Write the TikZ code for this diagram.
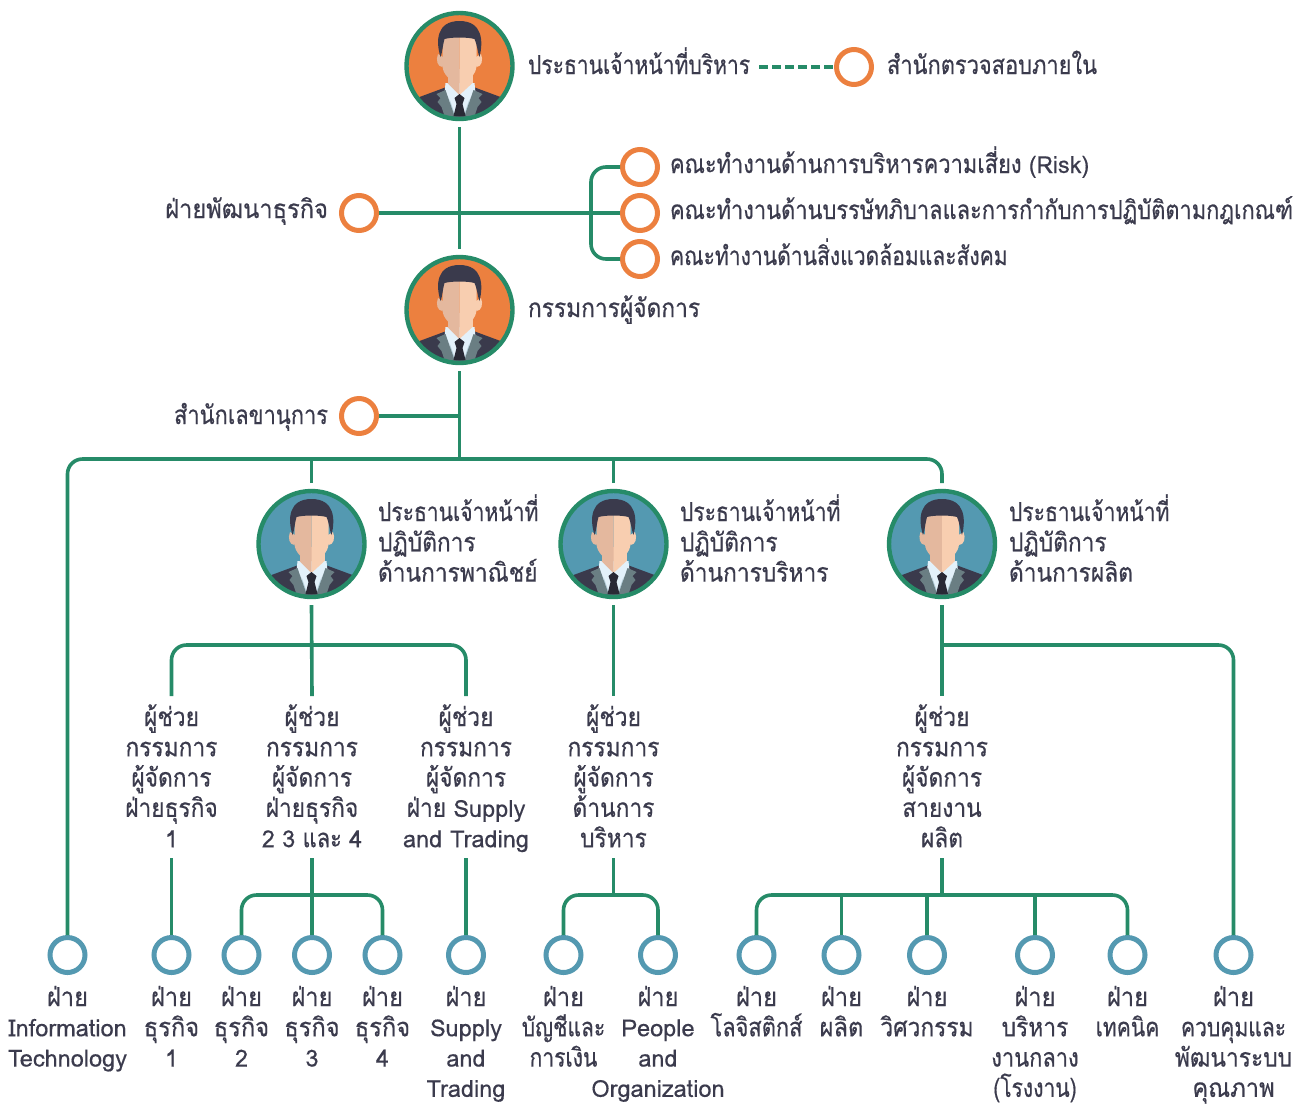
\documentclass[tikz,border=0pt]{standalone}
\usepackage{fontspec}
\setmainfont[Script=Thai,FakeStretch=0.84,FakeBold=0.5]{Loma}
\newfontfamily\fna[Script=Thai,FakeStretch=0.81,FakeBold=0.5]{Loma}
\newfontfamily\fwa[Script=Thai,FakeStretch=0.875,FakeBold=0.5]{Loma}
\newfontfamily\fxa[Script=Thai,FakeStretch=0.91,FakeBold=0.5]{Loma}
\newfontfamily\lafont[FakeBold=0.4]{Loma}
\newcommand\la[1]{{\fontsize{23.5pt}{30.3pt}\selectfont\lafont #1}}
\newcommand\na[1]{{\fna #1}}
\newcommand\wa[1]{{\fwa #1}}
\newcommand\xa[1]{{\fxa #1}}
\newcommand\tl[1]{\rule{0pt}{30pt}#1\rule[-11pt]{0pt}{11pt}}
\newcommand\bt[1]{\rule{0pt}{30pt}#1}
\definecolor{ink}{HTML}{3B3B4D}
\definecolor{tgreen}{HTML}{268B68}
\definecolor{torange}{HTML}{EC803F}
\definecolor{tblue}{HTML}{5499B1}
\definecolor{hairc}{HTML}{3A3A4C}
\definecolor{skinl}{HTML}{E4B89E}
\definecolor{skinr}{HTML}{F8CEB0}
\definecolor{shirtc}{HTML}{E3F1FA}
\definecolor{shirtd}{HTML}{B5CFDB}
\definecolor{lapel}{HTML}{6A7E83}
\tikzset{
  x=1pt,y=-1pt,
  lnk/.style={draw=tgreen,line width=3.6pt},
  head/.style={circle,minimum size=106pt,inner sep=0pt,outer sep=0pt},
  oring/.style={circle,draw=torange,line width=5pt,fill=white,minimum size=35pt,inner sep=0pt,outer sep=2.5pt},
  bring/.style={circle,draw=tblue,line width=5pt,fill=white,minimum size=35pt,inner sep=0pt,outer sep=2.5pt},
  lbl/.style={inner sep=0pt,outer sep=0pt,text=ink,align=center,anchor=north,
    font=\fontsize{26pt}{30.3pt}\selectfont,
    execute at begin node={\lineskiplimit=-1000pt}},
  lbll/.style={lbl,align=left,anchor=north west},
  lblr/.style={lbl,align=right,anchor=north east},
  pics/person/.style={code={
    \begin{scope}
      \clip (0,0) circle (52);
      \fill[#1] (-55,-55) rectangle (55,55);
      \fill[hairc] (-40,31) -- (-13,21) -- (14,21) -- (41,31) -- (52,55) -- (-52,55) -- cycle;
      \fill[shirtc] (-14,17) -- (15,17) -- (16,27) -- (8,50) -- (-8,50) -- (-15,27) -- cycle;
      \fill[shirtd] (-10,33) -- (-4,50) -- (-8,50) -- cycle (10,33) -- (4,50) -- (8,50) -- cycle;
      \fill[skinl] (-12,3) rectangle (0,17);
      \fill[skinl] (-12,17) -- (0,29) -- (0,17) -- cycle;
      \fill[skinr] (0,3) rectangle (13,17);
      \fill[skinr] (13,17) -- (0,29) -- (0,17) -- cycle;
      \fill[lapel] (-23,28) -- (-14,24) -- (-5,50) -- (-15,50) -- (-18,41) -- (-22,36) -- (-19,32) -- cycle;
      \fill[lapel] (23,28) -- (14,24) -- (5,50) -- (15,50) -- (18,41) -- (22,36) -- (19,32) -- cycle;
      \fill[hairc!70!black] (0,28) -- (5,32) -- (3,38) -- (6,50) -- (-6,50) -- (-3,38) -- (-5,32) -- cycle;
      \fill[skinl] (-21.5,-12) .. controls (-24,-6) and (-22,1) .. (-17,1) -- (-15,-8) -- cycle;
      \fill[skinr] (21.5,-12) .. controls (24,-6) and (22,1) .. (17,1) -- (15,-8) -- cycle;
      \fill[skinl] (0,-30) -- (-17,-30) -- (-17,0) .. controls (-17,8) and (-8,17) .. (0,17) -- cycle;
      \fill[skinr] (0,-30) -- (17,-30) -- (17,0) .. controls (17,8) and (8,17) .. (0,17) -- cycle;
      \fill[hairc] (-19,-9) .. controls (-24,-25) and (-23,-45) .. (0,-45)
        .. controls (23,-45) and (24,-25) .. (20,-9)
        .. controls (18,-14) and (18,-20) .. (15,-27)
        .. controls (8,-29) and (-8,-29) .. (-15,-27)
        .. controls (-17,-20) and (-17,-14) .. (-19,-9) -- cycle;
    \end{scope}
    \draw[tgreen,line width=4.4pt] (0,0) circle (53);
  }}
}
\begin{document}
\begin{tikzpicture}
\useasboundingbox (0,0) rectangle (1306,1104);
% heads
\node[head] (ceo) at (459.5,66) {};
\node[head] (md) at (459.5,310) {};
\node[head] (coo) at (311.5,544) {};
\node[head] (cao) at (613.5,544) {};
\node[head] (cpo) at (942,544) {};
\pic at (ceo) {person=torange};
\pic at (md) {person=torange};
\pic at (coo) {person=tblue};
\pic at (cao) {person=tblue};
\pic at (cpo) {person=tblue};
% rings
\node[oring] (audit) at (854,67) {};
\node[oring] (risk) at (640,167) {};
\node[oring] (gov) at (640,213) {};
\node[oring] (env) at (640,259) {};
\node[oring] (bizdev) at (359,213) {};
\node[oring] (sec) at (359,416) {};
\node[bring] (it) at (67.5,955) {};
\node[bring] (b1) at (171.5,955) {};
\node[bring] (b2) at (241.5,955) {};
\node[bring] (b3) at (312,955) {};
\node[bring] (b4) at (382.5,955) {};
\node[bring] (sup) at (466,955) {};
\node[bring] (acc) at (563.5,955) {};
\node[bring] (ppl) at (658,955) {};
\node[bring] (log) at (756.5,955) {};
\node[bring] (prod) at (841.5,955) {};
\node[bring] (eng) at (927,955) {};
\node[bring] (adm) at (1035,955) {};
\node[bring] (tech) at (1127.5,955) {};
\node[bring] (qa) at (1233.5,955) {};
% labels
\node[lbll] (tceo) at (528,44) {\tl{\na{ประธานเจ้าหน้าที่บริหาร}}};
\node[lbll] (taudit) at (887,44) {\tl{สำนักตรวจสอบภายใน}};
\node[lbll] (trisk) at (670,143) {\tl{คณะทำงานด้านการบริหารความเสี่ยง \la{(Risk)}}};
\node[lbll] (tgov) at (670,189) {\tl{คณะทำงานด้านบรรษัทภิบาลและการกำกับการปฏิบัติตามกฎเกณฑ์}};
\node[lbll] (tenv) at (670,235) {\tl{\na{คณะทำงานด้านสิ่งแวดล้อมและสังคม}}};
\node[lblr] (tbiz) at (328,188) {\tl{\xa{ฝ่ายพัฒนาธุรกิจ}}};
\node[lbll] (tmd) at (528,287) {\tl{\wa{กรรมการผู้จัดการ}}};
\node[lblr] (tsec) at (328,394) {\tl{สำนักเลขานุการ}};
\node[lbll] (tcoo) at (378,491) {\tl{\na{ประธานเจ้าหน้าที่}\\\wa{ปฏิบัติการ}\\\wa{ด้านการพาณิชย์}}};
\node[lbll] (tcao) at (680,491) {\tl{\na{ประธานเจ้าหน้าที่}\\\wa{ปฏิบัติการ}\\\wa{ด้านการบริหาร}}};
\node[lbll] (tcpo) at (1009,491) {\tl{\na{ประธานเจ้าหน้าที่}\\\wa{ปฏิบัติการ}\\\wa{ด้านการผลิต}}};
\node[lbl] (a1) at (171.5,696) {\tl{\wa{ผู้ช่วย}\\\wa{กรรมการ}\\\wa{ผู้จัดการ}\\\wa{ฝ่ายธุรกิจ}\\\la{1}}};
\node[lbl] (a2) at (312,696) {\tl{\wa{ผู้ช่วย}\\\wa{กรรมการ}\\\wa{ผู้จัดการ}\\\wa{ฝ่ายธุรกิจ}\\\la{2} \la{3} และ \la{4}}};
\node[lbl] (a3) at (466,696) {\tl{\wa{ผู้ช่วย}\\\wa{กรรมการ}\\\wa{ผู้จัดการ}\\\wa{ฝ่าย} \la{Supply}\\\la{and Trading}}};
\node[lbl] (a4) at (613.5,696) {\tl{\wa{ผู้ช่วย}\\\wa{กรรมการ}\\\wa{ผู้จัดการ}\\\wa{ด้านการ}\\\wa{บริหาร}}};
\node[lbl] (a5) at (942,696) {\tl{\wa{ผู้ช่วย}\\\wa{กรรมการ}\\\wa{ผู้จัดการ}\\\wa{สายงาน}\\\wa{ผลิต}}};
\node[lbl] at (67.5,976) (tit) {\bt{\xa{ฝ่าย}\\\la{Information}\\\la{Technology}}};
\node[lbl] at (171.5,976) (tb1) {\bt{\xa{ฝ่าย}\\\xa{ธุรกิจ}\\\la{1}}};
\node[lbl] at (241.5,976) (tb2) {\bt{\xa{ฝ่าย}\\\xa{ธุรกิจ}\\\la{2}}};
\node[lbl] at (312,976) (tb3) {\bt{\xa{ฝ่าย}\\\xa{ธุรกิจ}\\\la{3}}};
\node[lbl] at (382.5,976) (tb4) {\bt{\xa{ฝ่าย}\\\xa{ธุรกิจ}\\\la{4}}};
\node[lbl] at (466,976) (tsup) {\bt{\xa{ฝ่าย}\\\la{Supply}\\\la{and}\\\la{Trading}}};
\node[lbl] at (563.5,976) (tacc) {\bt{\xa{ฝ่าย}\\\na{บัญชีและ}\\\na{การเงิน}}};
\node[lbl] at (658,976) (tppl) {\bt{\xa{ฝ่าย}\\\la{People}\\\la{and}\\\la{Organization}}};
\node[lbl] at (756.5,976) (tlog) {\bt{\xa{ฝ่าย}\\โลจิสติกส์}};
\node[lbl] at (841.5,976) (tprod) {\bt{\xa{ฝ่าย}\\\xa{ผลิต}}};
\node[lbl] at (927,976) (teng) {\bt{\xa{ฝ่าย}\\\wa{วิศวกรรม}}};
\node[lbl] at (1035,976) (tadm) {\bt{\xa{ฝ่าย}\\\wa{บริหาร}\\งานกลาง\\\na{(โรงงาน)}}};
\node[lbl] at (1127.5,976) (ttech) {\bt{\xa{ฝ่าย}\\\na{เทคนิค}}};
\node[lbl] at (1233.5,976) (tqa) {\bt{\xa{ฝ่าย}\\\na{ควบคุมและ}\\\wa{พัฒนาระบบ}\\\xa{คุณภาพ}}};
% junction coordinates
\coordinate (ceoOut) at (459.5,127);
\coordinate (mdIn) at (459.5,249);
\coordinate (mdOut) at (459.5,371);
\coordinate (busY) at (459.5,459);
\coordinate (cooIn) at (311.5,483);
\coordinate (caoIn) at (613.5,483);
\coordinate (cpoIn) at (942,483);
\coordinate (cooOut) at (311.5,605);
\coordinate (caoOut) at (613.5,605);
\coordinate (cpoOut) at (942,605);
\coordinate (dashS) at (759,67);
\coordinate (bracex) at (591,213);
% connectors
\draw[lnk] (ceoOut) -- (mdIn);
\draw[lnk] (bizdev) -- (gov);
\draw[lnk,rounded corners=15pt] (risk) -| (bracex) |- (env);
\draw[lnk,dash pattern=on 9pt off 4pt,line width=3.2pt] (dashS) -- (audit);
\draw[lnk] (mdOut) -- (busY);
\draw[lnk] (sec) -- (mdOut |- sec);
\draw[lnk,rounded corners=15pt] (it) |- (busY) -| (cpoIn);
\draw[lnk] (cooIn) -- (cooIn |- busY);
\draw[lnk] (caoIn) -- (caoIn |- busY);
% commerce
\coordinate (y1) at (0,645);
\coordinate (y2) at (0,895);
\draw[lnk] (cooOut) -- (a2.north);
\draw[lnk,rounded corners=15pt] (a1.north) |- (y1 -| a2) -| (a3.north);
\draw[lnk] (a1.south) -- (b1);
\draw[lnk] (a2.south) -- (b3);
\draw[lnk,rounded corners=15pt] (b2) |- (y2 -| b3) -| (b4);
\draw[lnk] (a3.south) -- (sup);
% admin
\draw[lnk] (caoOut) -- (a4.north);
\draw[lnk] (a4.south) -- (y2 -| a4);
\draw[lnk,rounded corners=15pt] (acc) |- (y2 -| a4) -| (ppl);
% production
\draw[lnk] (cpoOut) -- (a5.north);
\draw[lnk,rounded corners=15pt] (y1 -| a5) -| (qa);
\draw[lnk] (a5.south) -- (y2 -| a5);
\draw[lnk,rounded corners=15pt] (log) |- (y2 -| a5) -| (tech);
\draw[lnk] (prod) -- (y2 -| prod);
\draw[lnk] (eng) -- (y2 -| eng);
\draw[lnk] (adm) -- (y2 -| adm);
\end{tikzpicture}
\end{document}
